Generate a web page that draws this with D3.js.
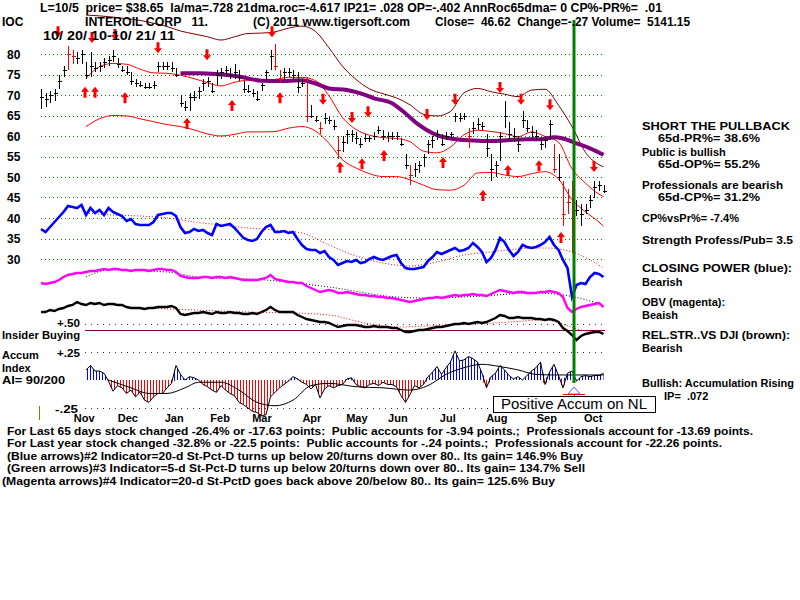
<!DOCTYPE html>
<html>
<head>
<meta charset="utf-8">
<script src="https://cdn.jsdelivr.net/npm/d3@7"></script>
<style>
body { margin: 0; background: #fff; }
text { font-family: "Liberation Sans", Arial, sans-serif; font-weight: bold; font-size: 11px; white-space: pre; fill: #000; }
text.big { font-size: 12px; }
</style>
</head>
<body>
<svg id="chart" width="800" height="600"></svg>
<script>
// ---- data (index = sample along the year, ~2 trading days each) ----
const priceTicks = [80, 75, 70, 65, 60, 55, 50, 45, 40, 35, 30];
const months = ["Nov", "Dec", "Jan", "Feb", "Mar", "Apr", "May", "Jun", "Jul", "Aug", "Sep", "Oct"];
const monthIdx = [9.6, 19.3, 29.6, 39.8, 49.1, 60.2, 70.2, 79.3, 90.4, 101.3, 112.4, 122.7];

// [low, high, close]
const bars = [
  [66.5,71.5,69.5],[67,70.5,69],[68,71,70],[68.5,71.5,70.5],[71.5,75,73.5],[74.5,77,76],[76,82,80],[77.5,81,79.5],[77.5,80.5,79],[77.5,81,80],
  [74,78,75],[74.5,80.5,77],[75.5,78,76.5],[75.5,78,77],[76.5,79,78],[77,79.5,78.5],[78,81,79.5],[76.5,79,77.5],[75.5,77,76],[75,77,75.5],
  [72.5,75.5,73.5],[72,74,73],[72,73.5,72.5],[71.5,73,72],[71.5,73,72],[71.5,73.5,72.5],[75.5,78,77],[76,78,77],[76,78,77],[75.5,78,76.5],
  [74.5,76.5,75],[67,70,68],[66,68.5,67],[66,70.5,69.5],[68.5,71,69.5],[69,72,71],[71,74,73],[72,74.5,73.5],[70.5,73,71],[72.5,76,75],
  [74,76.5,75.5],[74.5,77,76],[74,76.5,75],[74,77.5,75.5],[73.5,76,74.5],[70.5,73.5,71.5],[70.5,72.5,71],[69.5,71.5,70.5],[68.5,71,69],[71,73,72.5],
  [73.5,76,75.5],[76,81,79.5],[76,82.5,77],[73,76,74],[74,76.5,75.5],[74.5,76.5,75.5],[74,76,75],[70.5,75.5,72],[72,74,73],[63.5,74.5,65],
  [64.5,67.5,65],[63.5,65,64],[60.5,63.5,62],[63,65.5,64.5],[63,64.7,64],[61.5,64,62.5],[54.5,60,56.5],[56,60,58.5],[58,61.5,60.5],[58.5,61.5,60.5],
  [58,61,59.5],[57,59.5,58],[58.5,60.5,59.5],[58.5,60,59.5],[59,61,60],[60.5,62.5,61.5],[59,61.5,60],[58.5,61,60],[59,61,60],[59,61,60],
  [57.5,59.5,58],[52,55.5,53],[48,53,50.5],[50,53.5,52],[51,54,53],[52.5,55.5,55],[55.5,59,58],[57,60,59],[59,61.5,60.5],[57.5,60.5,58],
  [59,61,60],[59.5,61,60.5],[63.5,65.5,65],[63.5,65.5,64.5],[64,65.5,65],[57,62,60],[60.5,63.5,62],[61.5,64.5,63],[61.5,63.5,62.5],[55,60.5,57],
  [49,55.5,52],[50,54,53],[54,61,60],[62,68.5,65],[59,63.5,60.5],[58.5,62,60],[56,60,58],[62,66,64],[61,64,62],[59.5,62.5,61],
  [59,61.5,60],[56.5,59.5,58],[57,60,59],[59,64,63],[51,58,52],[49,55.5,50],[38,49,41],[41,47,44],[31.5,49,40],[40.5,44.5,42],
  [38,43.5,41],[41,43.5,42],[42.5,45.5,44.5],[45,49,47.5],[46.5,49,48],[46,48,46.6]
];
const redBars = [6, 7, 52, 53, 59, 62, 66, 82, 95, 114, 116, 117, 118];

// bands (sampled every 3rd index)
const bandIdx = [10,13,16,19,22,25,28,31,34,37,40,43,46,49,52,55,58,61,64,67,70,73,76,79,82,85,88,91,94,97,100,103,106,109,112,115,118,121,124,125];
const upperBand = [89.5,89.3,89,88.6,88.2,87.5,86.7,85.6,84.9,84.2,83.4,84.2,85,85.1,85.4,86.3,86.8,85.5,81.5,77,73.8,71.5,70.3,69.3,67.6,65.3,64.9,66,70.5,71.6,70.8,70.2,69.6,71.2,71.4,67.5,62.3,56,53,52.5];
const midBand = [74.1,76.9,77.7,77.5,76.3,75.4,75.3,74.8,74,73,72.2,73.1,73.6,73.5,73.8,74.3,74.3,73.5,69.8,64.5,61.6,60.2,59.6,59.4,58.6,56.3,55.9,57.3,60.3,61.4,61.1,60.6,59.8,61,59.9,58.5,52,48.5,45.8,45.2];
const lowerBand = [62.3,64.2,65,64.9,64.2,63.5,62.8,62.3,61.5,60.5,60,60.4,61,61,61.1,61.9,62.3,61.2,58.2,54.2,52.2,50.8,50.1,50.1,49.3,48,46.9,46.8,48,51,51.1,50.5,50.1,50.8,51.3,49.5,44.5,41.5,39,38];

// 65-day average [index, price]
const ma65 = [[31,75.3],[35,75.3],[39,75.1],[44,74.5],[49,73.5],[53,73.4],[58,73.6],[61,72.8],[64,71.6],[68,71.2],[71,70.4],[74,69.2],[78,68],[81,65.5],[84,62.7],[88,60.2],[91,59.4],[94,59],[98,58.8],[101,58.8],[104,59],[108,59.2],[111,59.2],[114,59.7],[116,59.4],[119,58.2],[122,57],[125,55.4]];

// signal arrows [index, price at tip]
const sellArrows = [[3.8,84.1],[11.3,82.7],[16.4,83.4],[26,80.2],[36.9,78.5],[51.3,84.1],[62.7,67.6],[69.1,63.2],[72.7,64.6],[85.8,63.9],[92,67.6],[102,70.5],[106.7,67.6],[113.1,66.3],[122.9,51.2]];
const buyArrows = [[9.8,72],[12,72],[18.7,70.7],[32.4,64.4],[42.4,68.8],[53.1,70.7],[66.4,53.7],[71.3,54.6],[76.2,56.6],[89.3,54.9],[98.2,46.8],[103.8,52.9],[110.7,54.1],[115.6,36.6]];

// closing power (blue), relative units
const closingPower = [71,68,73,78,83,88,94,93,92,95,85,92,87,90,85,92,88,86,84,79,81,76,75,75,75,78,85,86,87,87,
  84,73,67,68,71,69,70,67,65,76,74,75,76,72,67,62,60,59,61,68,73,75,68,68,69,67,68,61,55,51,
  50,50,47,49,43,40,35,37,39,38,40,37,38,41,43,41,40,42,44,45,37,32,31,31,32,33,39,43,48,46,
  48,50,52,49,50,52,57,53,48,38,42,50,62,58,50,44,48,55,53,52,53,55,58,63,55,50,40,32,3,15,
  17,16,23,27,26,23];
const cpAvg = [[10,87],[16,85],[22,84],[28,82],[34,78],[40,75],[46,72],[52,70],[58,67],[64,55],[70,44],[76,37],[82,34],[88,38],[94,45],[100,48],[106,51],[112,52],[118,48],[125,32]];

// on-balance volume (magenta), relative units
const obv = [37,36,37,38,40,43,45,46,47,47,48,49,49,50,51,50,51,51,50,50,49,50,50,50,49,50,51,51,50,50,
  48,44,43,42,42,42,43,43,42,43,43,42,43,42,41,40,40,40,40,41,42,45,41,40,39,38,38,37,37,34,
  32,30,28,29,30,29,27,27,28,27,26,25,25,24,24,23,23,22,22,21,20,19,18,19,20,21,22,22,23,22,
  23,24,25,24,25,25,26,25,25,24,26,28,30,29,28,27,28,28,27,27,27,28,28,29,28,27,23,12,8,11,
  13,14,15,16,17,13];
const obvAvg = [[10,43],[15,50],[28,48],[35,43],[50,40],[64,33],[79,23],[86,22],[98,24],[109,27],[116,25],[125,15]];

// relative strength vs DJI (black), relative units
const relStr = [38,38,40,39,41,42,44,45,48,46,45,47,46,47,45,46,46,45,45,43,42,42,42,41,42,42,43,43,43,44,
  42,36,35,36,37,37,38,37,36,38,37,37,38,37,37,36,36,37,36,38,40,43,40,38,38,38,38,35,33,31,
  30,29,28,28,27,25,23,24,25,25,25,24,23,23,24,23,23,23,22,22,20,18,18,19,20,20,21,22,23,23,
  24,25,26,26,27,26,27,28,27,28,30,32,35,34,32,32,33,32,32,32,31,31,30,31,30,28,22,19,15,10,
  14,16,17,18,18,16];
const rsAvg = [[24,42],[34,40],[46,38],[56,37],[64,35],[72,27],[79,23],[90,25],[101,27],[112,30],[120,20],[125,17]];

// accumulation index
const accum = [null,null,null,null,null,null,null,null,null,null,
  0.09,0.13,0.08,0.08,0.06,-0.01,-0.1,-0.05,-0.07,-0.12,
  -0.09,-0.15,-0.11,-0.18,-0.2,-0.15,-0.12,-0.12,-0.07,-0.03,
  0.13,0.05,0,0.03,0.02,0,-0.04,-0.06,-0.09,-0.11,
  -0.05,-0.09,-0.12,-0.14,-0.2,-0.22,-0.25,-0.28,-0.29,-0.32,
  -0.31,-0.15,-0.11,-0.07,-0.04,-0.01,0.03,0.01,-0.02,-0.04,
  -0.08,-0.04,-0.16,-0.08,-0.05,-0.07,-0.05,-0.04,0.01,0.02,
  -0.04,-0.06,-0.07,-0.04,-0.03,-0.05,-0.02,-0.04,-0.04,-0.06,
  -0.14,-0.2,-0.13,-0.05,-0.07,-0.04,0.03,0.07,0.12,0.05,
  0.11,0.16,0.26,0.17,0.18,0.21,0.19,0.16,0.06,-0.07,
  0.03,0.06,0.13,0.09,0.04,0.01,0.03,0,0.04,0.08,
  0.11,0.16,-0.04,0.07,0.14,0.04,-0.07,0.06,0.08,-0.01,
  0.03,0.04,0.03,0.04,0.04,0.06];
const accumAvg = [[15,0],[20,-0.07],[24,-0.12],[28,-0.12],[32,-0.07],[35,-0.02],[40,-0.02],[44,-0.09],[48,-0.2],[52,-0.23],[56,-0.18],[60,-0.05],[64,-0.03],[70,-0.06],[76,-0.07],[82,-0.09],[86,-0.05],[90,0.05],[94,0.11],[98,0.14],[102,0.12],[106,0.09],[110,0.05],[114,0.045],[120,0.045],[125,0.045]];
const aiTicks = [0.5, 0.25, -0.25];
const aiTickLabels = ["+.50", "+.25", "-.25"];
const insiderLevel = 0.45;
const markerIdx = 118.4;

// ---- scales ----
const svg = d3.select("#chart");
const x = d3.scaleLinear().domain([0, 125]).range([41, 603.5]);
const yP = d3.scaleLinear().domain([30, 80]).range([259, 54]);
const yCP = d3.scaleLinear().domain([0, 100]).range([300, 200]);
const yOBV = d3.scaleLinear().domain([0, 100]).range([320, 220]);
const yRS = d3.scaleLinear().domain([0, 100]).range([350, 250]);
const yAI = d3.scaleLinear().domain([-0.25, 0.5]).range([408, 324]);
const px = i => Math.round(x(i)) + 0.5;

// hatch patterns for the accumulation bars
const defs = svg.append("defs");
[["hatchBlue", "#0000ff"], ["hatchRed", "#ff0000"]].forEach(([id, c]) => {
  defs.append("pattern").attr("id", id).attr("width", 3).attr("height", 4)
    .attr("patternUnits", "userSpaceOnUse")
    .append("rect").attr("width", 1).attr("height", 4).attr("fill", c);
});

// price grid
svg.append("g").selectAll("line").data(priceTicks).join("line")
  .attr("x1", 41).attr("x2", 605)
  .attr("y1", d => Math.round(yP(d)) + 0.5).attr("y2", d => Math.round(yP(d)) + 0.5)
  .attr("stroke", "#008000").attr("stroke-dasharray", "1,3");
svg.append("g").selectAll("text").data(priceTicks).join("text").attr("class", "big")
  .attr("x", 7).attr("y", d => yP(d) + 4.5).text(d => d);

// accumulation grid
svg.append("g").selectAll("line").data(aiTicks).join("line")
  .attr("x1", 85).attr("x2", 605)
  .attr("y1", d => Math.round(yAI(d)) + 0.5).attr("y2", d => Math.round(yAI(d)) + 0.5)
  .attr("stroke", "#333").attr("stroke-dasharray", "1,5");
svg.append("line").attr("x1", 85).attr("x2", 605)
  .attr("y1", Math.round(yAI(insiderLevel)) + 0.5).attr("y2", Math.round(yAI(insiderLevel)) + 0.5)
  .attr("stroke", "#800040").attr("stroke-width", 1);
svg.append("g").selectAll("text").data(aiTicks).join("text")
  .attr("x", (d, i) => i === 2 ? 55 : 57).attr("y", (d, i) => yAI(d) + (i === 0 ? 2.5 : 4.5))
  .attr("textLength", 23).attr("lengthAdjust", "spacingAndGlyphs")
  .text((d, i) => aiTickLabels[i]);

// bands
const bandLine = vals => d3.line().x((d, k) => x(bandIdx[k])).y(d => yP(d)).curve(d3.curveMonotoneX)(vals);
svg.append("path").attr("d", bandLine(upperBand)).attr("fill", "none").attr("stroke", "#800000");
svg.append("path").attr("d", bandLine(midBand)).attr("fill", "none").attr("stroke", "#ff0000");
svg.append("path").attr("d", bandLine(lowerBand)).attr("fill", "none").attr("stroke", "#ff0000");

const pairLine = ys => d3.line().x(d => x(d[0])).y(d => ys(d[1])).curve(d3.curveMonotoneX);
svg.append("path").attr("d", pairLine(yP)(ma65)).attr("fill", "none")
  .attr("stroke", "#800080").attr("stroke-width", 4);

// price bars
const barG = svg.append("g").attr("shape-rendering", "crispEdges");
barG.selectAll("line.hl").data(bars).join("line").attr("class", "hl")
  .attr("x1", (d, i) => px(i)).attr("x2", (d, i) => px(i))
  .attr("y1", d => yP(d[1])).attr("y2", d => yP(d[0]))
  .attr("stroke", (d, i) => redBars.includes(i) ? "#ff0000" : "#000");
barG.selectAll("line.cl").data(bars).join("line").attr("class", "cl")
  .attr("x1", (d, i) => px(i) - 2).attr("x2", (d, i) => px(i) + 2.5)
  .attr("y1", d => Math.round(yP(d[2])) + 0.5).attr("y2", d => Math.round(yP(d[2])) + 0.5)
  .attr("stroke", (d, i) => redBars.includes(i) ? "#ff0000" : "#000");

// arrows
const downArrow = ([i, p]) => {
  const cx = Math.round(x(i)), ty = yP(p);
  return `M${cx - 1.5},${ty - 11}H${cx + 1.5}V${ty - 5}H${cx + 4}L${cx},${ty}L${cx - 4},${ty - 5}H${cx - 1.5}Z`;
};
const upArrow = ([i, p]) => {
  const cx = Math.round(x(i)), ty = yP(p);
  return `M${cx - 1.5},${ty + 11}H${cx + 1.5}V${ty + 5}H${cx + 4}L${cx},${ty}L${cx - 4},${ty + 5}H${cx - 1.5}Z`;
};
svg.append("g").selectAll("path").data(sellArrows).join("path").attr("d", downArrow).attr("fill", "#ff0000");
svg.append("g").selectAll("path").data(buyArrows).join("path").attr("d", upArrow).attr("fill", "#ff0000");

// closing power, OBV, relative strength
const idxLine = ys => d3.line().defined(d => d != null).x((d, i) => x(i)).y(d => ys(d));
svg.append("path").attr("d", pairLine(yCP)(cpAvg)).attr("fill", "none")
  .attr("stroke", "#ff0000").attr("stroke-dasharray", "1,2");
svg.append("path").attr("d", idxLine(yCP)(closingPower)).attr("fill", "none")
  .attr("stroke", "#0000ff").attr("stroke-width", 2.6);
svg.append("path").attr("d", pairLine(yOBV)(obvAvg)).attr("fill", "none")
  .attr("stroke", "#000").attr("stroke-dasharray", "1,2");
svg.append("path").attr("d", idxLine(yOBV)(obv)).attr("fill", "none")
  .attr("stroke", "#ff00ff").attr("stroke-width", 2.4);
svg.append("path").attr("d", pairLine(yRS)(rsAvg)).attr("fill", "none")
  .attr("stroke", "#ff0000").attr("stroke-dasharray", "1,2");
svg.append("path").attr("d", idxLine(yRS)(relStr)).attr("fill", "none")
  .attr("stroke", "#000").attr("stroke-width", 2.4);

// accumulation index
const aiData = accum.map((v, i) => ({ i, v })).filter(d => d.v != null);
svg.append("path").datum(aiData)
  .attr("d", d3.area().x(d => x(d.i)).y0(yAI(0)).y1(d => yAI(Math.max(d.v, 0))))
  .attr("fill", "url(#hatchBlue)");
svg.append("path").datum(aiData)
  .attr("d", d3.area().x(d => x(d.i)).y0(yAI(0)).y1(d => yAI(Math.min(d.v, 0))))
  .attr("fill", "url(#hatchRed)");
svg.append("path").datum(aiData)
  .attr("d", d3.line().x(d => x(d.i)).y(d => yAI(d.v)))
  .attr("fill", "none").attr("stroke", "#000").attr("stroke-width", 1);
svg.append("path").attr("d", pairLine(yAI)(accumAvg)).attr("fill", "none")
  .attr("stroke", "#000").attr("stroke-width", 1);

// month labels
svg.append("g").selectAll("text").data(months).join("text")
  .attr("x", (d, k) => x(monthIdx[k])).attr("y", 422).attr("text-anchor", "middle").text(d => d);

// marker line at the signal date
const mx = Math.round(x(markerIdx));
svg.append("line").attr("x1", mx).attr("x2", mx).attr("y1", 20).attr("y2", 383)
  .attr("stroke", "#008000").attr("stroke-width", 3);
svg.append("path").attr("d", `M${mx},387L${mx + 6},394L${mx - 6},394Z`)
  .attr("fill", "none").attr("stroke", "#4060ff");
svg.append("line").attr("x1", mx - 11).attr("x2", mx + 11).attr("y1", 394.5).attr("y2", 394.5).attr("stroke", "#ff0000");
svg.append("line").attr("x1", mx + 0.5).attr("x2", mx + 0.5).attr("y1", 394).attr("y2", 403).attr("stroke", "#ff0000");
svg.append("line").attr("x1", 39.5).attr("x2", 39.5).attr("y1", 406).attr("y2", 420).attr("stroke", "#808000");

// texts
const labels = [
  { t: "L=10/5  price= $38.65  la/ma=.728 21dma.roc=-4.617 IP21= .028 OP=-.402 AnnRoc65dma= 0 CP%-PR%=  .01", x: 40, y: 12, w: 622, big: 1 },
  { t: "IOC", x: 2, y: 26, big: 1 },
  { t: "INTEROIL CORP   11.", x: 85, y: 26, w: 123, big: 1 },
  { t: "(C) 2011 www.tigersoft.com", x: 253, y: 26, w: 157, big: 1 },
  { t: "Close=  46.62  Change=-.27 Volume=  5141.15", x: 435, y: 26, w: 255, big: 1 },
  { t: "10/ 20/ 10-10/ 21/ 11", x: 43, y: 40, w: 132, big: 1 },
  { t: "SHORT THE PULLBACK", x: 642, y: 130, w: 148 },
  { t: "65d-PR%= 38.6%", x: 658, y: 142, w: 102 },
  { t: "Public is bullish", x: 642, y: 156 },
  { t: "65d-OP%= 55.2%", x: 658, y: 168, w: 102 },
  { t: "Professionals are bearish", x: 642, y: 189, w: 141 },
  { t: "65d-CP%= 31.2%", x: 658, y: 201, w: 102 },
  { t: "CP%vsPr%= -7.4%", x: 642, y: 222 },
  { t: "Strength Profess/Pub= 3.5", x: 642, y: 244, w: 151 },
  { t: "CLOSING POWER (blue):", x: 642, y: 272, w: 150 },
  { t: "Bearish", x: 642, y: 286 },
  { t: "OBV (magenta):", x: 642, y: 306 },
  { t: "Beaish", x: 642, y: 319 },
  { t: "REL.STR..VS DJI (brown):", x: 642, y: 339, w: 148 },
  { t: "Bearish", x: 642, y: 352 },
  { t: "Bullish: Accumulation Rising", x: 642, y: 387, w: 152 },
  { t: "IP=  .072", x: 664, y: 400 },
  { t: "Insider Buying", x: 2, y: 339, w: 78 },
  { t: "Accum", x: 2, y: 359 },
  { t: "Index", x: 2, y: 371.5 },
  { t: "AI= 90/200", x: 2, y: 384, w: 63 },
  { t: "For Last 65 days stock changed -26.4% or -17.63 points:  Public accounts for -3.94 points.;  Professionals account for -13.69 points.", x: 7, y: 434.5, w: 746 },
  { t: "For Last year stock changed -32.8% or -22.5 points:  Public accounts for -.24 points.;  Professionals account for -22.26 points.", x: 7, y: 447, w: 715 },
  { t: "(Blue arrows)#2 Indicator=20-d St-Pct-D turns up below 20/turns down over 80.. Its gain= 146.9% Buy", x: 7, y: 459.5, w: 576 },
  { t: "(Green arrows)#3 Indicator=5-d St-Pct-D turns up below 20/turns down over 80.. Its gain= 134.7% Sell", x: 7, y: 472, w: 578 },
  { t: "(Magenta arrows)#4 Indicator=20-d St-PctD goes back above 20/below 80.. Its gain= 125.6% Buy", x: 2, y: 484.5, w: 553 }
];
const tg = svg.append("g");
labels.forEach(l => {
  const t = tg.append("text").attr("x", l.x).attr("y", l.y).attr("xml:space", "preserve").text(l.t);
  if (l.big) t.attr("class", "big");
  if (l.w) t.attr("textLength", l.w).attr("lengthAdjust", "spacingAndGlyphs");
});

// signal box
svg.append("rect").attr("x", 493.5).attr("y", 396.5).attr("width", 162).attr("height", 16)
  .attr("fill", "#fff").attr("stroke", "#000");
svg.append("text").attr("x", 501).attr("y", 409).attr("textLength", 146).attr("lengthAdjust", "spacingAndGlyphs")
  .style("font-weight", "normal").style("font-size", "14px").text("Positive Accum on NL");
</script>
</body>
</html>
